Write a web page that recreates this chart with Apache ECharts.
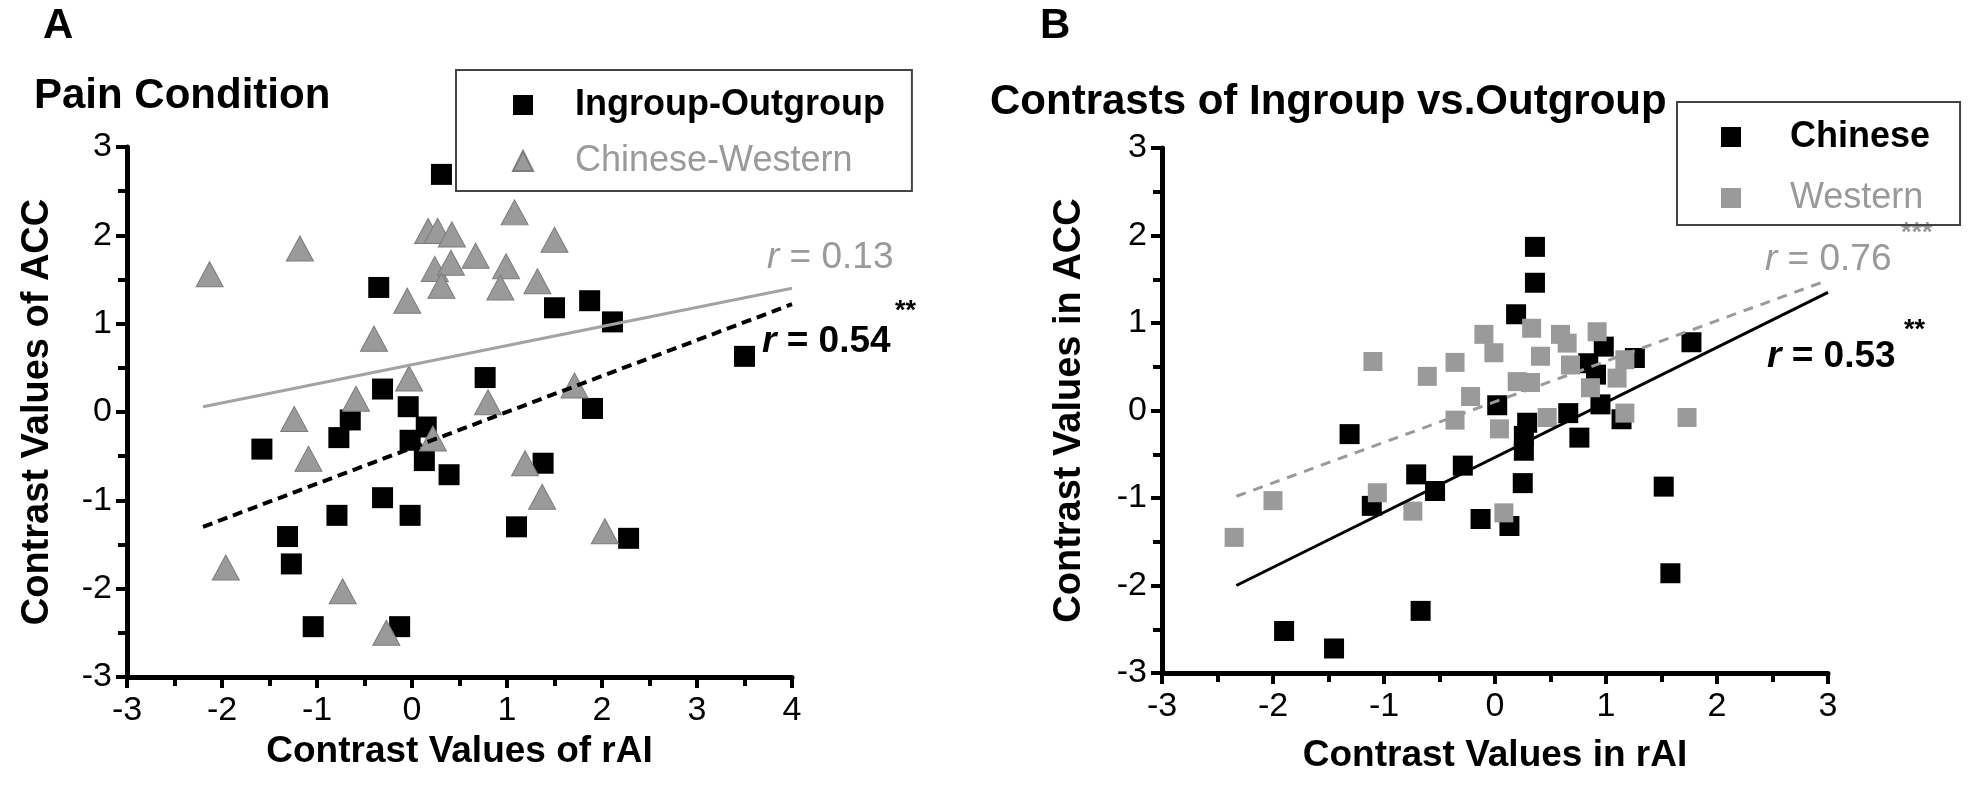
<!DOCTYPE html>
<html lang="en">
<head>
<meta charset="UTF-8">
<title>ACC vs rAI contrasts</title>
<script src="https://cdn.jsdelivr.net/npm/echarts@6/dist/echarts.min.js"></script>
<style>
    html, body { margin: 0; padding: 0; background: #fff; }
    #chart { width: 1976px; height: 790px; }
</style>
</head>
<body>
<div id="chart"></div>
<script>
    // panel A: pain condition, [rAI, ACC]
    const ingroupOutgroupA = [
        [0.31, 2.69], [-0.35, 1.41], [1.50, 1.18], [1.87, 1.26], [2.11, 1.02],
        [0.77, 0.39], [-0.31, 0.26], [-0.04, 0.06], [-0.65, -0.09], [-1.58, -0.42],
        [-0.77, -0.29], [-0.02, -0.32], [0.15, -0.17], [0.13, -0.55], [0.39, -0.71],
        [1.38, -0.58], [1.90, 0.04], [-0.31, -0.97], [-0.79, -1.17], [-0.02, -1.17],
        [1.10, -1.30], [-1.31, -1.41], [2.28, -1.43], [-1.04, -2.43], [-0.13, -2.43],
        [-1.27, -1.72], [3.50, 0.63]
    ];
    const chineseWesternA = [
        [-2.13, 1.56], [-1.18, 1.85], [-0.40, 0.83], [-0.05, 1.26], [0.17, 2.05],
        [0.27, 2.05], [0.42, 2.01], [0.24, 1.62], [0.41, 1.69], [0.67, 1.77],
        [1.08, 2.26], [1.50, 1.95], [0.99, 1.65], [1.32, 1.48], [0.31, 1.43],
        [0.93, 1.41], [-0.03, 0.38], [-0.59, 0.15], [-1.24, -0.08], [-1.09, -0.53],
        [0.80, 0.11], [1.71, 0.30], [0.22, -0.30], [1.19, -0.58], [1.37, -0.96],
        [2.03, -1.35], [-1.96, -1.76], [-0.73, -2.03], [-0.27, -2.50]
    ];
    const fitGrayA = [[-2.2, 0.06], [4.0, 1.40]];
    const fitBlackA = [[-2.2, -1.30], [4.0, 1.22]];

    // panel B: ingroup vs outgroup contrasts, [rAI, ACC]
    const chineseB = [
        [0.19, 1.10], [-1.31, -0.27], [0.02, 0.06], [0.29, -0.14], [0.26, -0.29],
        [0.26, -0.46], [0.25, -0.83], [-0.71, -0.73], [-0.54, -0.92], [-0.29, -0.63],
        [-1.11, -1.09], [-0.13, -1.24], [0.13, -1.32], [-0.67, -2.29], [-1.90, -2.52],
        [-1.45, -2.72], [1.77, 0.78], [0.98, 0.73], [1.26, 0.60], [0.84, 0.54],
        [0.91, 0.41], [0.66, -0.03], [0.95, 0.07], [1.14, -0.10], [0.76, -0.31],
        [1.52, -0.87], [1.58, -1.86], [0.36, 1.87], [0.36, 1.46]
    ];
    const westernB = [
        [-2.35, -1.45], [-2.00, -1.03], [-1.10, 0.56], [-0.61, 0.39], [-0.36, 0.55],
        [-0.10, 0.87], [-0.01, 0.66], [0.33, 0.94], [-0.22, 0.16], [-0.36, -0.11],
        [0.04, -0.21], [0.20, 0.33], [0.32, 0.32], [0.41, 0.62], [-1.06, -0.94],
        [-0.74, -1.15], [0.08, -1.17], [0.59, 0.87], [0.92, 0.90], [0.65, 0.77],
        [0.68, 0.52], [1.17, 0.58], [1.10, 0.37], [0.86, 0.26], [0.47, -0.08],
        [1.17, -0.03], [1.73, -0.08]
    ];
    const fitBlackB = [[-2.33, -2.00], [3.0, 1.35]];
    const fitGrayB = [[-2.33, -0.98], [3.0, 1.49]];

    const xRangeA = [-3, 4];
    const xRangeB = [-3, 3];
    const yRange = [-3, 3];

    const FONT = '"Liberation Sans", Arial, sans-serif';
    const GRAY = '#9a9a9a';

    function valueAxis(gridIndex, range, name, nameGap, isY) {
        return {
            type: 'value',
            gridIndex: gridIndex,
            min: range[0],
            max: range[1],
            interval: 1,
            name: name,
            nameLocation: 'middle',
            nameGap: nameGap,
            nameTextStyle: {fontFamily: FONT, fontSize: isY ? 38 : 37, fontWeight: 'bold', color: '#000'},
            axisLine: {show: true, onZero: false, lineStyle: {color: '#000', width: 5}},
            axisTick: {show: true, inside: false, length: 11, lineStyle: {color: '#000', width: 4}},
            minorTick: {show: true, splitNumber: 2, length: 9, lineStyle: {color: '#000', width: 4}},
            splitLine: {show: false},
            axisLabel: {fontFamily: FONT, fontSize: 34, color: '#000', margin: isY ? 15 : 17}
        };
    }

    function rLabel(x, y, value, color, bold) {
        const weight = bold ? 'bold' : 'normal';
        return {
            type: 'text',
            x: x,
            y: y,
            style: {
                text: '{i|r} = ' + value,
                fill: color,
                font: weight + ' 37px ' + FONT,
                verticalAlign: 'middle',
                rich: {i: {fontStyle: 'italic', fontWeight: weight, fontSize: 37, fontFamily: FONT, fill: color}}
            }
        };
    }

    function stars(x, y, text, color) {
        return {
            type: 'text',
            x: x,
            y: y,
            style: {text: text, fill: color, font: 'bold 27px ' + FONT, verticalAlign: 'middle'}
        };
    }

    const chart = echarts.init(document.getElementById('chart'));

    const option = {
        backgroundColor: '#fff',
        animation: false,
        title: [
            {text: 'A', left: 43, top: 5, padding: 0, textStyle: {fontFamily: FONT, fontSize: 42, fontWeight: 'bold', color: '#000'}},
            {text: 'Pain Condition', left: 34, top: 75, padding: 0, textStyle: {fontFamily: FONT, fontSize: 42, fontWeight: 'bold', color: '#000'}},
            {text: 'B', left: 1040, top: 5, padding: 0, textStyle: {fontFamily: FONT, fontSize: 42, fontWeight: 'bold', color: '#000'}},
            {text: 'Contrasts of Ingroup vs.Outgroup', left: 990, top: 81, padding: 0, textStyle: {fontFamily: FONT, fontSize: 42, fontWeight: 'bold', color: '#000'}}
        ],
        legend: [
            {
                orient: 'vertical',
                left: 456,
                top: 70,
                padding: [17, 27, 12, 56],
                itemGap: 20,
                itemWidth: 20,
                itemHeight: 20,
                borderColor: '#444',
                borderWidth: 2,
                textStyle: {fontFamily: FONT, fontSize: 36, lineHeight: 30, padding: [0, 0, 0, 37]},
                data: [
                    {name: 'Ingroup-Outgroup', textStyle: {fontWeight: 'bold', color: '#000'}},
                    {name: 'Chinese-Western', textStyle: {color: GRAY}}
                ]
            },
            {
                orient: 'vertical',
                left: 1677,
                top: 102,
                padding: [17, 30, 9, 44],
                itemGap: 25,
                itemWidth: 20,
                itemHeight: 20,
                borderColor: '#444',
                borderWidth: 2,
                textStyle: {fontFamily: FONT, fontSize: 36, lineHeight: 30, padding: [0, 0, 0, 44]},
                data: [
                    {name: 'Chinese', textStyle: {fontWeight: 'bold', color: '#000'}},
                    {name: 'Western', textStyle: {color: GRAY}}
                ]
            }
        ],
        grid: [
            {left: 127, top: 147, width: 665, height: 530},
            {left: 1162, top: 148, width: 666, height: 525}
        ],
        xAxis: [
            valueAxis(0, xRangeA, 'Contrast Values of rAI', 51, false),
            valueAxis(1, xRangeB, 'Contrast Values in rAI', 64, false)
        ],
        yAxis: [
            valueAxis(0, yRange, 'Contrast Values of ACC', 70, true),
            valueAxis(1, yRange, 'Contrast Values in ACC', 73, true)
        ],
        series: [
            {
                type: 'scatter', name: 'Ingroup-Outgroup', xAxisIndex: 0, yAxisIndex: 0,
                data: ingroupOutgroupA, symbol: 'rect', symbolSize: 21,
                itemStyle: {color: '#000', opacity: 1}, z: 2
            },
            {
                type: 'scatter', name: 'Chinese-Western', xAxisIndex: 0, yAxisIndex: 0,
                data: chineseWesternA, symbol: 'triangle', symbolSize: [27, 25],
                itemStyle: {color: GRAY, borderColor: '#7c7c7c', borderWidth: 1, opacity: 1}, z: 3
            },
            {
                type: 'line', xAxisIndex: 0, yAxisIndex: 0, data: fitGrayA,
                symbol: 'none', silent: true, z: 4,
                lineStyle: {color: '#a3a3a3', width: 3}
            },
            {
                type: 'line', xAxisIndex: 0, yAxisIndex: 0, data: fitBlackA,
                symbol: 'none', silent: true, z: 4,
                lineStyle: {color: '#000', width: 4, type: [10, 6]}
            },
            {
                type: 'scatter', name: 'Chinese', xAxisIndex: 1, yAxisIndex: 1,
                data: chineseB, symbol: 'rect', symbolSize: 20,
                itemStyle: {color: '#000', opacity: 1}, z: 2
            },
            {
                type: 'scatter', name: 'Western', xAxisIndex: 1, yAxisIndex: 1,
                data: westernB, symbol: 'rect', symbolSize: 19,
                itemStyle: {color: GRAY, opacity: 1}, z: 3
            },
            {
                type: 'line', xAxisIndex: 1, yAxisIndex: 1, data: fitBlackB,
                symbol: 'none', silent: true, z: 4,
                lineStyle: {color: '#000', width: 3}
            },
            {
                type: 'line', xAxisIndex: 1, yAxisIndex: 1, data: fitGrayB,
                symbol: 'none', silent: true, z: 4,
                lineStyle: {color: GRAY, width: 3, type: [10, 8]}
            }
        ],
        graphic: [
            rLabel(767, 258, '0.13', GRAY, false),
            rLabel(762, 342, '0.54', '#000', true),
            stars(895, 312, '**', '#000'),
            rLabel(1765, 260, '0.76', GRAY, false),
            stars(1901, 234, '***', GRAY),
            rLabel(1767, 357, '0.53', '#000', true),
            stars(1904, 331, '**', '#000')
        ]
    };

    chart.setOption(option);
    window.onresize = chart.resize;
</script>
</body>
</html>
